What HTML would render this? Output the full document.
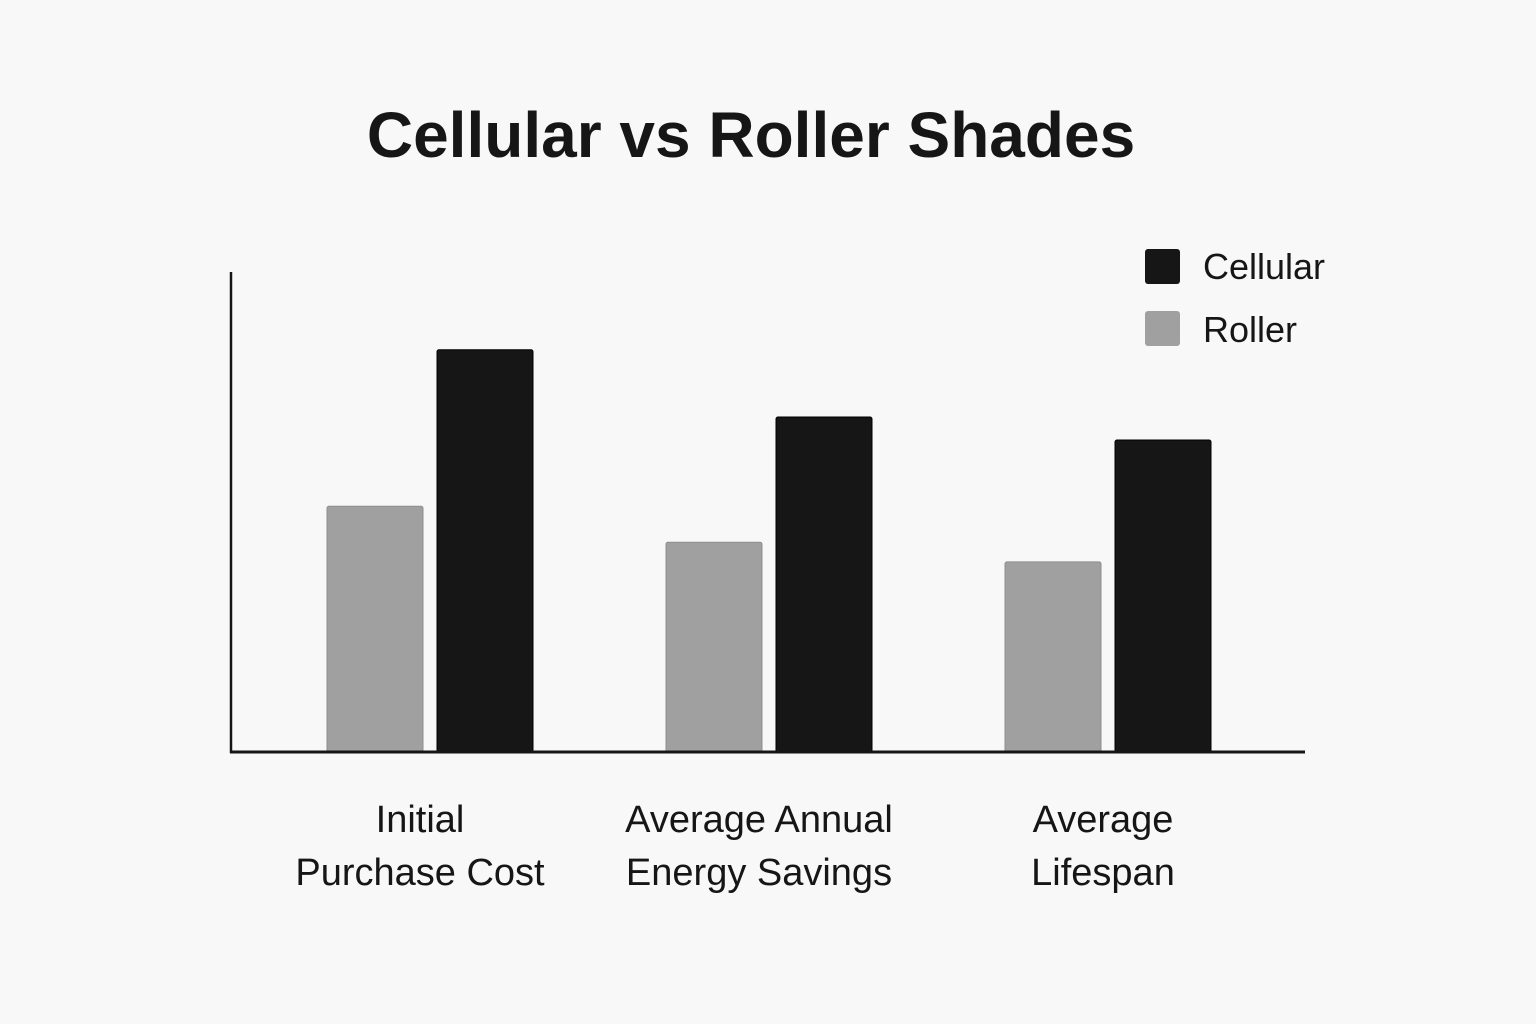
<!DOCTYPE html>
<html><head><meta charset="utf-8"><style>
html,body{margin:0;padding:0;background:#f8f8f8;}
svg{display:block;font-family:"Liberation Sans",sans-serif;}
</style></head><body>
<svg width="1536" height="1024" viewBox="0 0 1536 1024">
<rect width="1536" height="1024" fill="#f8f8f8"/>
<text x="751" y="157" text-anchor="middle" font-size="64" font-weight="bold" fill="#161616">Cellular vs Roller Shades</text>
<g id="bars"></g>
<line x1="231" y1="272" x2="231" y2="753" stroke="#161616" stroke-width="2.5"/>
<line x1="230" y1="752" x2="1305" y2="752" stroke="#161616" stroke-width="3"/>
<g id="labels"></g>
<g>
<g>
<rect x="1145" y="249" width="35" height="35" rx="3" fill="#161616"/>
<text x="1203" y="279" font-size="36" fill="#161616">Cellular</text></g>
<g>
<rect x="1145" y="311" width="35" height="35" rx="3" fill="#a0a0a0"/>
<text x="1203" y="342" font-size="36" fill="#161616">Roller</text></g>
</g>
</svg>
<script>
const categories = [["Initial","Purchase Cost"],["Average Annual","Energy Savings"],["Average","Lifespan"]];
const rollerValues = [51.2, 43.7, 39.6];
const cellularValues = [83.8, 69.8, 65.0];
const NS = "http://www.w3.org/2000/svg";
const y0 = 752, yTop = 272, vMax = 100;
function yScale(v){ return y0 - (v / vMax) * (y0 - yTop); }
function xCenter(i){ return 430 + i * 339; }
const barW = 96, gap = 14;
const bars = document.getElementById('bars');
const labels = document.getElementById('labels');
categories.forEach((cat, i) => {
  const c = xCenter(i);
  [[rollerValues[i], c - gap/2 - barW, '#a0a0a0', '#8e8e8e', 'roller'],
   [cellularValues[i], c + gap/2, '#161616', '#000', 'cellular']].forEach(([v, x, fill, stroke, s]) => {
    const r = document.createElementNS(NS, 'rect');
    const y = yScale(v);
    r.setAttribute('x', x); r.setAttribute('y', y);
    r.setAttribute('width', barW); r.setAttribute('height', y0 - y);
    r.setAttribute('fill', fill); r.setAttribute('stroke', stroke); r.setAttribute('stroke-width', 1);
    r.setAttribute('rx', 2);
    
    
    bars.appendChild(r);
  });
  cat.forEach((line, j) => {
    const t = document.createElementNS(NS, 'text');
    t.setAttribute('x', c - 10 + (i === 2 ? 5 : 0));
    t.setAttribute('y', 832 + j * 53);
    t.setAttribute('text-anchor', 'middle');
    t.setAttribute('font-size', '38');
    t.setAttribute('fill', '#161616');
    t.textContent = line;
    
    
    labels.appendChild(t);
  });
});
</script>
</body></html>
